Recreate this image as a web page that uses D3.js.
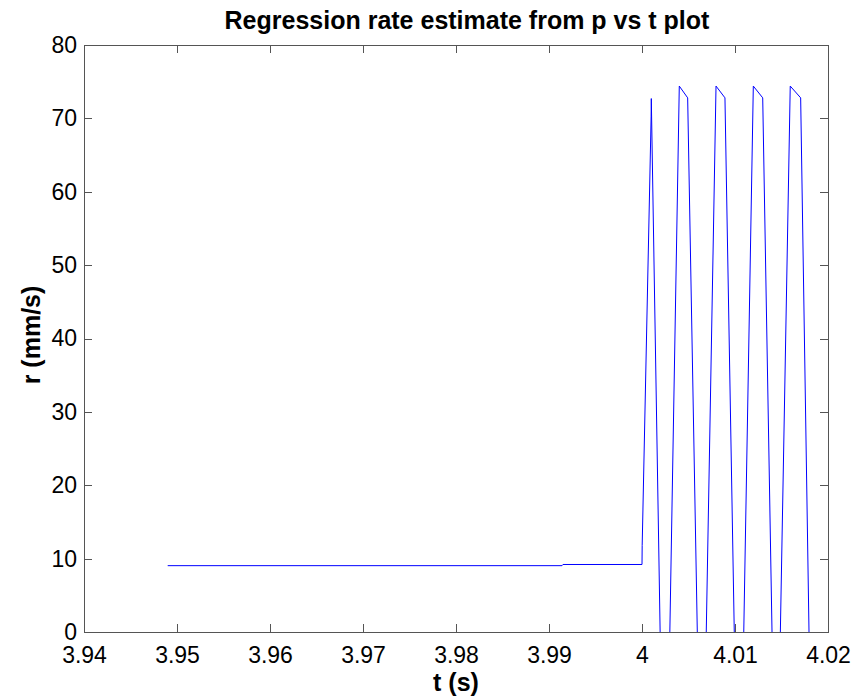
<!DOCTYPE html>
<html>
<head>
<meta charset="utf-8">
<script src="https://cdn.jsdelivr.net/npm/d3@7"></script>
<style>
	body { margin: 0; background: #fff; }
	svg { display: block; }
	text { font-family: "Liberation Sans", Arial, Helvetica, sans-serif; fill: #000; }
</style>
</head>
<body>
<div id="chart"></div>
<script>
// values
var tValues = [3.949, 3.9914, 3.9915, 4.0000, 4.00002, 4.00098, 4.00100, 4.00246,
	4.00401, 4.00491, 4.00643,
	4.00796, 4.00892, 4.01043,
	4.01197, 4.01298, 4.01442,
	4.01594, 4.01706, 4.01839]
var rValues = [9.04, 9.04, 9.2, 9.2, 11.8, 70.2, 72.7, -39,
	74.4, 72.8, -34,
	74.4, 72.8, -37,
	74.4, 72.8, -32,
	74.4, 72.8, -35]

var xTicks = [3.94, 3.95, 3.96, 3.97, 3.98, 3.99, 4.00, 4.01, 4.02]
var xTickLabels = ["3.94", "3.95", "3.96", "3.97", "3.98", "3.99", "4", "4.01", "4.02"]
var yTicks = [0, 10, 20, 30, 40, 50, 60, 70, 80]
var yTickLabels = ["0", "10", "20", "30", "40", "50", "60", "70", "80"]

var titleText = "Regression rate estimate from p vs t plot"
var xLabel = "t (s)"
var yLabel = "r (mm/s)"

var w = 865, h = 699
var margin = {top: 45, right: 37, bottom: 67, left: 84}
var pw = w - margin.left - margin.right
var ph = h - margin.top - margin.bottom

var lineColour = "#0000ff"
var axisColour = "#555"

var svg = d3.select("#chart")
	.append("svg")
	.attr("width", w)
	.attr("height", h)

var x = d3.scaleLinear().domain([3.94, 4.02]).range([0, pw])
var y = d3.scaleLinear().domain([0, 80]).range([ph, 0])

var g = svg.append("g")
	.attr("transform", "translate(" + margin.left + "," + margin.top + ")")

svg.append("clipPath")
	.attr("id", "plotClip")
	.append("rect")
	.attr("width", pw)
	.attr("height", ph)

// data line, clipped at the axes like matlab
var points = tValues.map(function(t, i) { return [t, rValues[i]] })

var line = d3.line()
	.x(function(d) { return x(d[0]) })
	.y(function(d) { return y(d[1]) })

g.append("path")
	.datum(points)
	.attr("clip-path", "url(#plotClip)")
	.attr("d", line)
	.style("fill", "none")
	.style("stroke", lineColour)
	.style("stroke-width", 1)

// axes, ticks pointing inwards on all four sides
function styleAxis(sel) {
	sel.selectAll("path, line").style("stroke", axisColour).attr("shape-rendering", "crispEdges")
	sel.selectAll("text").style("font-size", "23px").style("fill", "#000")
}

var xAxis = d3.axisBottom(x)
	.tickValues(xTicks)
	.tickFormat(function(d, i) { return xTickLabels[i] })
	.tickSizeInner(-8)
	.tickSizeOuter(0)
	.tickPadding(15)

var yAxis = d3.axisLeft(y)
	.tickValues(yTicks)
	.tickFormat(function(d, i) { return yTickLabels[i] })
	.tickSizeInner(-8)
	.tickSizeOuter(0)
	.tickPadding(7)

g.append("g")
	.attr("transform", "translate(0," + ph + ")")
	.call(xAxis)
	.call(styleAxis)

g.append("g")
	.call(yAxis)
	.call(styleAxis)

g.append("g")
	.call(d3.axisTop(x).tickValues(xTicks).tickFormat("").tickSizeInner(-8).tickSizeOuter(0))
	.call(styleAxis)

g.append("g")
	.attr("transform", "translate(" + pw + ",0)")
	.call(d3.axisRight(y).tickValues(yTicks).tickFormat("").tickSizeInner(-8).tickSizeOuter(0))
	.call(styleAxis)

// title and labels
svg.append("text")
	.attr("x", margin.left + pw / 2 + 11)
	.attr("y", 29)
	.attr("text-anchor", "middle")
	.style("font-size", "25px")
	.style("font-weight", "bold")
	.text(titleText)

svg.append("text")
	.attr("x", margin.left + pw / 2)
	.attr("y", 691)
	.attr("text-anchor", "middle")
	.style("font-size", "25px")
	.style("font-weight", "bold")
	.text(xLabel)

svg.append("text")
	.attr("transform", "translate(40,335) rotate(-90)")
	.attr("text-anchor", "middle")
	.style("font-size", "25px")
	.style("font-weight", "bold")
	.text(yLabel)
</script>
</body>
</html>
